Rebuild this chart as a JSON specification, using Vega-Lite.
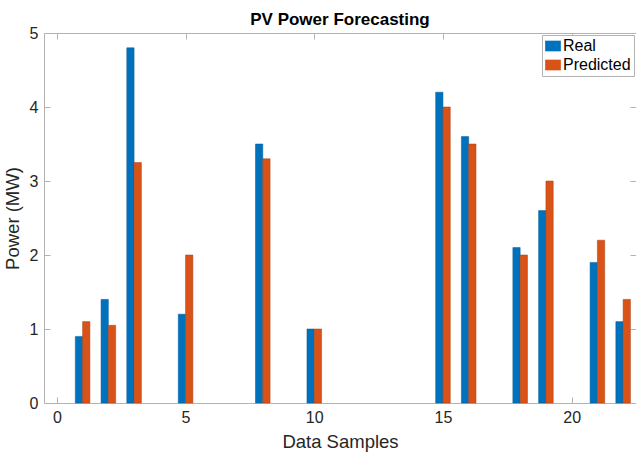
{
  "$schema": "https://vega.github.io/schema/vega-lite/v6.json",
  "width": 592,
  "height": 370,
  "autosize": "none",
  "padding": {"left": 44, "top": 33, "right": 0, "bottom": 49},
  "background": "white",
  "title": {"text": "PV Power Forecasting", "font": "Liberation Sans", "fontSize": 17, "fontWeight": "bold", "color": "black", "offset": -4},
  "config": {
    "view": {"stroke": "#b3b3b3", "strokeWidth": 1},
    "axis": {"labelFont": "Liberation Sans", "titleFont": "Liberation Sans", "labelColor": "#262626", "titleColor": "#262626", "labelFontSize": 16, "titleFontSize": 18.5, "titleFontWeight": "normal", "grid": false, "domain": false, "tickColor": "#b3b3b3", "tickSize": -6, "labelPadding": 12},
    "legend": {"labelFont": "Liberation Sans", "labelFontSize": 16, "labelColor": "black"}
  },
  "data": {"values": [
    {"sample": 1, "Real": 0.9, "Predicted": 1.1},
    {"sample": 2, "Real": 1.4, "Predicted": 1.05},
    {"sample": 3, "Real": 4.8, "Predicted": 3.25},
    {"sample": 5, "Real": 1.2, "Predicted": 2.0},
    {"sample": 8, "Real": 3.5, "Predicted": 3.3},
    {"sample": 10, "Real": 1.0, "Predicted": 1.0},
    {"sample": 15, "Real": 4.2, "Predicted": 4.0},
    {"sample": 16, "Real": 3.6, "Predicted": 3.5},
    {"sample": 18, "Real": 2.1, "Predicted": 2.0},
    {"sample": 19, "Real": 2.6, "Predicted": 3.0},
    {"sample": 21, "Real": 1.9, "Predicted": 2.2},
    {"sample": 22, "Real": 1.1, "Predicted": 1.4}
  ]},
  "resolve": {"axis": {"x": "independent", "y": "independent"}},
  "layer": [
    {
      "mark": {"type": "bar", "width": 7.3, "xOffset": -3.65, "stroke": "#005a96", "strokeWidth": 0.5},
      "encoding": {
        "x": {"field": "sample", "type": "quantitative", "scale": {"domain": [-0.5, 22.5], "nice": false, "zero": false, "padding": 0}, "axis": {"values": [0, 5, 10, 15, 20], "title": "Data Samples", "titlePadding": 7}},
        "y": {"field": "Real", "type": "quantitative", "scale": {"domain": [0, 5], "nice": false}, "axis": {"values": [0, 1, 2, 3, 4, 5], "title": "Power (MW)", "titlePadding": 7}},
        "color": {"datum": "Real", "type": "nominal", "scale": {"domain": ["Real", "Predicted"], "range": ["#0072BD", "#D95319"]}, "legend": {"title": null, "orient": "top-right", "offset": 2, "strokeColor": "#b3b3b3", "fillColor": "white", "padding": 3, "symbolType": "M-1,-0.68H1V0.68H-1Z", "symbolSize": 246, "symbolStrokeWidth": 0, "rowPadding": 3, "labelOffset": 2}}
      }
    },
    {
      "mark": {"type": "bar", "width": 7.3, "xOffset": 3.65, "stroke": "#a63c10", "strokeWidth": 0.5},
      "encoding": {
        "x": {"field": "sample", "type": "quantitative", "axis": null},
        "y": {"field": "Predicted", "type": "quantitative", "axis": null},
        "color": {"datum": "Predicted", "type": "nominal"}
      }
    },
    {
      "mark": {"type": "point", "opacity": 0},
      "encoding": {
        "x": {"field": "sample", "type": "quantitative", "axis": {"orient": "top", "values": [0, 5, 10, 15, 20], "labels": false, "title": null}},
        "y": {"field": "Real", "type": "quantitative", "axis": {"orient": "right", "values": [0, 1, 2, 3, 4, 5], "labels": false, "title": null}}
      }
    }
  ]
}
